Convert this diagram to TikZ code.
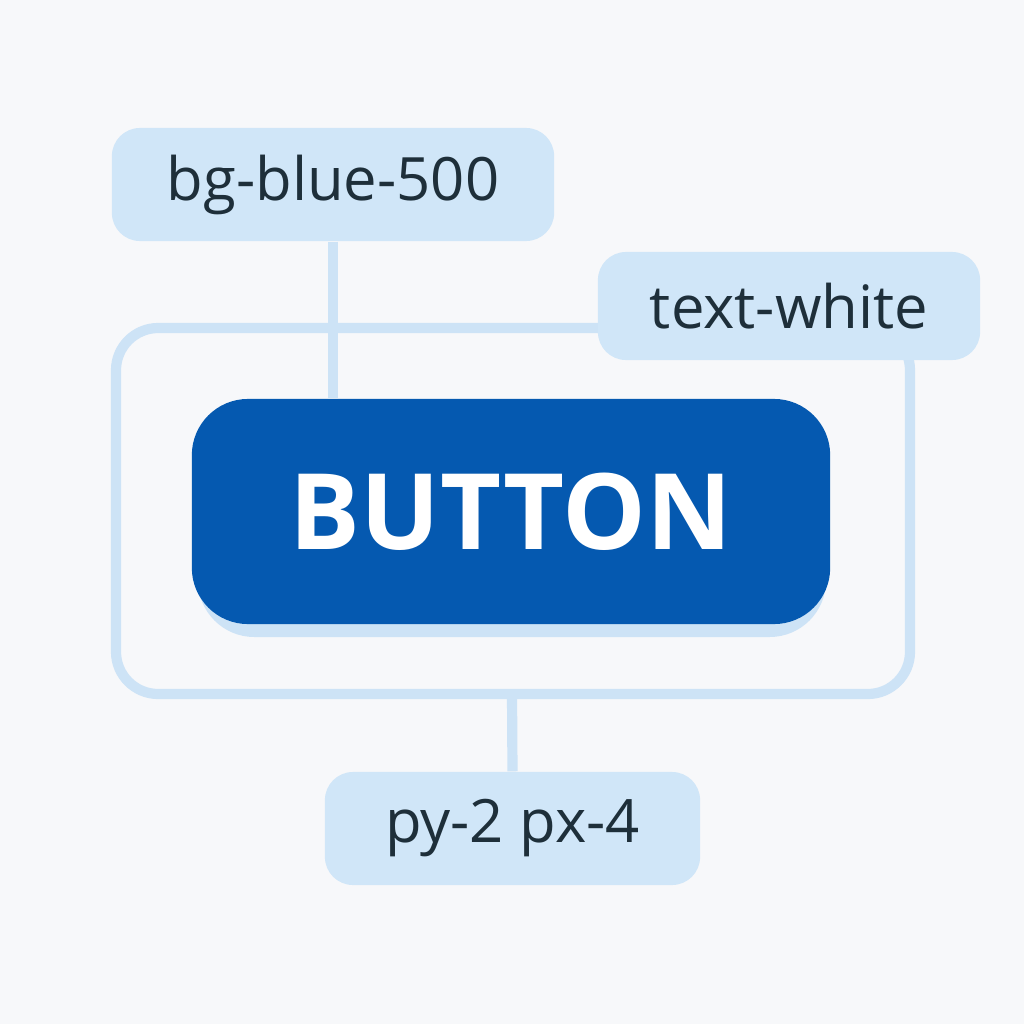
\documentclass[tikz,border=0pt]{standalone}
\usepackage{fontspec}
\setmainfont{Open Sans}
\definecolor{pageBg}{HTML}{F7F8FA}
\definecolor{tagBlue}{HTML}{D0E6F8}
\definecolor{lineBlue}{HTML}{CDE3F6}
\definecolor{btnBlue}{HTML}{0559B0}
\definecolor{tagText}{HTML}{1E2F3A}
\usetikzlibrary{positioning}

\begin{document}
\begin{tikzpicture}[x=0.01cm, y=-0.01cm,
	tag/.style={rectangle, rounded corners=8pt, fill=tagBlue, inner sep=0pt, text=tagText, font=\fontsize{17}{20}\selectfont},
	wire/.style={draw=lineBlue, line width=2.9pt}]
	\fill[pageBg] (0,0) rectangle (1024,1024);
	% outer frame
	\draw[wire, rounded corners=12pt] (116,328) rectangle (910,694);
	% button with its shadow
	\fill[lineBlue, rounded corners=16pt] (198,412) rectangle (826,637);
	\node[rectangle, rounded corners=16pt, fill=btnBlue, minimum width=6.38cm, minimum height=2.25cm, text=white, font=\fontsize{30}{34}\selectfont\bfseries] (button) at (511,511.5) {BUTTON};
	% labels
	\node[tag, minimum width=4.42cm, minimum height=1.13cm] (bgtag) at (333,184.5) {bg-blue-500};
	\node[tag, minimum width=3.82cm, minimum height=1.08cm] (texttag) at (789,306) {text-white};
	\node[tag, minimum width=3.75cm, minimum height=1.13cm] (padtag) at (512.5,828.5) {py-2 px-4};
	\coordinate (framebottom) at (512,694);
	% connectors
	\draw[wire] (bgtag.south) -- (bgtag.south |- button.north);
	\draw[wire] (framebottom) -- (padtag.north);
\end{tikzpicture}
\end{document}
